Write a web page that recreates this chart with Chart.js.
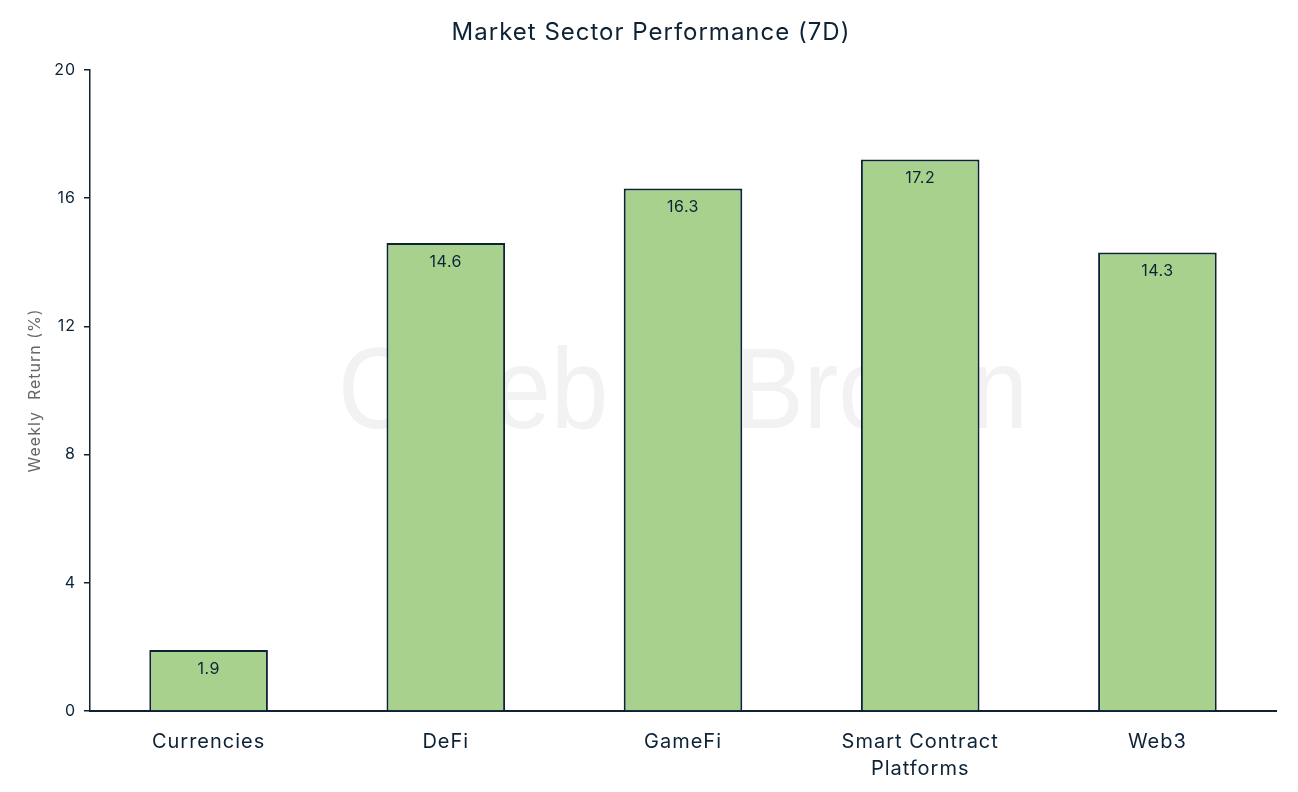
<!DOCTYPE html>
<html>
<head>
<meta charset="utf-8">
<script src="https://cdn.jsdelivr.net/npm/chart.js@4/dist/chart.umd.min.js"></script>
<style>
  html, body { margin: 0; padding: 0; background: #ffffff; }
  #wrap { width: 1298px; height: 792px; position: relative; }
</style>
</head>
<body>
<div id="wrap"><canvas id="myChart" width="1298" height="792"></canvas></div>
<script>
const sectors = ["Currencies", "DeFi", "GameFi", ["Smart Contract", "Platforms"], "Web3"];
const weeklyReturn = [1.9, 14.6, 16.3, 17.2, 14.3];
const yTicks = [0, 4, 8, 12, 16, 20];

const dark = "#0e2235";

// the reference font is a bit wider, so space the letters out a little
const spacing = {
  id: "spacing",
  beforeLayout(chart) {
    chart.ctx.letterSpacing = "1px";
  },
  beforeDraw(chart) {
    chart.ctx.letterSpacing = "1px";
  },
};

// faint brand text behind the bars
const watermark = {
  id: "watermark",
  beforeDatasetsDraw(chart) {
    const { ctx, chartArea } = chart;
    ctx.save();
    ctx.letterSpacing = "0px";
    ctx.font = "115px 'Liberation Sans', Arial, sans-serif";
    ctx.fillStyle = "#f2f2f2";
    ctx.textAlign = "center";
    ctx.textBaseline = "middle";
    ctx.fillText("Caleb & Brown", (chartArea.left + chartArea.right) / 2, (chartArea.top + chartArea.bottom) / 2 + 6, 690);
    ctx.restore();
  },
};

// value labels just inside the top of each bar
const barValues = {
  id: "barValues",
  afterDatasetsDraw(chart) {
    const { ctx } = chart;
    const meta = chart.getDatasetMeta(0);
    ctx.save();
    ctx.letterSpacing = "0.5px";
    ctx.font = "16px Inter, 'Noto Sans', sans-serif";
    ctx.fillStyle = dark;
    ctx.textAlign = "center";
    ctx.textBaseline = "middle";
    meta.data.forEach((bar, i) => {
      ctx.fillText(weeklyReturn[i].toFixed(1), bar.x, bar.y + 19);
    });
    ctx.restore();
  },
};

Chart.defaults.font.family = "Inter, 'Noto Sans', sans-serif";
Chart.defaults.color = dark;

var ctx = document.getElementById("myChart").getContext("2d");
var myChart = new Chart(ctx, {
  type: "bar",
  data: {
    labels: sectors,
    datasets: [
      {
        label: "Weekly Return (%)",
        data: weeklyReturn,
        backgroundColor: "#a9d18e",
        borderColor: dark,
        borderWidth: 2,
        borderSkipped: "bottom",
        barPercentage: 0.5,
        categoryPercentage: 1.0,
      },
    ],
  },
  options: {
    responsive: false,
    animation: false,
    layout: { padding: { left: 26, right: 22, top: 0, bottom: 0 } },
    plugins: {
      legend: { display: false },
      tooltip: { enabled: false },
      title: {
        display: true,
        text: "Market Sector Performance (7D)",
        color: dark,
        font: { size: 24, weight: "normal" },
        padding: { top: 18, bottom: 23 },
      },
    },
    scales: {
      x: {
        grid: { display: false },
        border: { display: true, color: dark, width: 2 },
        ticks: {
          color: dark,
          font: { size: 20, lineHeight: 1.35 },
          padding: 9,
          maxRotation: 0,
        },
        afterFit(scale) {
          scale.height = 81;
        },
      },
      y: {
        min: 0,
        max: 20,
        afterBuildTicks(scale) {
          scale.ticks = yTicks.map((v) => ({ value: v }));
        },
        grid: {
          display: true,
          drawOnChartArea: false,
          drawTicks: true,
          tickLength: 6,
          color: dark,
          lineWidth: 1.5,
        },
        border: { display: true, color: dark, width: 1.5 },
        ticks: { color: dark, font: { size: 16 }, padding: 8 },
        title: {
          display: true,
          text: "Weekly  Return (%)",
          color: "#666666",
          font: { size: 16 },
          padding: { top: 0, bottom: 10 },
        },
        afterFit(scale) {
          scale.width = 64;
        },
      },
    },
  },
  plugins: [spacing, watermark, barValues],
});
</script>
</body>
</html>
